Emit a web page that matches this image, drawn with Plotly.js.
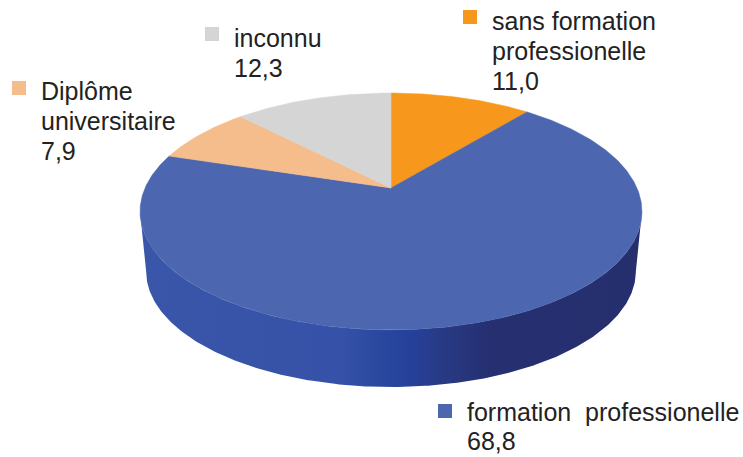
<!DOCTYPE html>
<html><head><meta charset="utf-8">
<script src="https://cdn.plot.ly/plotly-3.0.1.min.js"></script>
<style>html,body{margin:0;padding:0;background:#fff}</style></head>
<body><div id="chart" style="width:743px;height:457px"></div>
<script>
const categories = ["sans formation professionelle","formation professionelle","Diplôme universitaire","inconnu"];
const shares = [11.0, 68.8, 7.9, 12.3];
const sliceColors = ["#F7981D","#4C67B0","#F5BD8B","#D5D5D5"];
const labelLines = [["sans formation","professionelle","11,0"],["formation  professionelle","68,8"],["Diplôme","universitaire","7,9"],["inconnu","12,3"]];
const labelX = [490,465,39,232];
const labelY = [21,412,91,38];
const lineSteps = [30,29,30,30];
const keyX = [470,445,19,212];
const keyY = [17,411,88,34];
const wallStops = [[0,"#3A56A9"],[0.4,"#3652A8"],[0.47,"#2A499F"],[0.54,"#26409A"],[0.6,"#283A85"],[0.7,"#262F70"],[1,"#262F6E"]];

// tilted-disc view of the pie
const topRim = {cx:391, cy:188, a:246, b:113.8, k:0.198};
const baseRim = {cx:391, cy:248.6, a:240, b:111, k:0.198};
const project = (r, phi) => {
  const u = Math.sin(phi), v = Math.cos(phi), d = 1 + r.k * v;
  return [r.cx + r.a * u / d, r.cy - r.b * v / d];
};
const arc = (r, from, to) => {
  const n = Math.max(2, Math.ceil(Math.abs(to - from) / 0.01)), pts = [];
  for (let i = 0; i <= n; i++) pts.push(project(r, from + (to - from) * i / n));
  return pts;
};
const total = shares.reduce((a, b) => a + b, 0);
const traces = [];

const right = Math.acos(-topRim.k), left = 2 * Math.PI - right;
const wall = arc(topRim, right, left).concat(arc(baseRim, left, right));
traces.push({type:"scatter", mode:"lines", x:wall.map(p=>p[0]), y:wall.map(p=>p[1]),
  fill:"toself", line:{width:0}, hoverinfo:"skip",
  fillgradient:{type:"horizontal", colorscale:wallStops}});

let acc = 0;
shares.forEach((s, i) => {
  const a0 = acc / total * 2 * Math.PI; acc += s;
  const a1 = acc / total * 2 * Math.PI;
  const pts = [[topRim.cx, topRim.cy]].concat(arc(topRim, a0, a1));
  pts.push(pts[0]);
  traces.push({type:"scatter", mode:"lines", name:categories[i], x:pts.map(p=>p[0]), y:pts.map(p=>p[1]),
    fill:"toself", fillcolor:sliceColors[i], line:{width:0.5, color:sliceColors[i]}});
});

traces.push({type:"scatter", mode:"markers", x:keyX, y:keyY, hoverinfo:"skip",
  marker:{symbol:"square", size:14, color:sliceColors, line:{width:0}}});

const annotations = [];
labelLines.forEach((lines, i) => lines.forEach((t, j) => annotations.push({
  x:labelX[i], y:labelY[i] + j * lineSteps[i], xref:"x", yref:"y", text:t, showarrow:false,
  xanchor:"left", yanchor:"middle", font:{family:"Liberation Sans, Arial, sans-serif", size:25, color:"#222"}
})));

Plotly.newPlot("chart", traces, {
  width:743, height:457, margin:{l:0,r:0,t:0,b:0}, showlegend:false,
  paper_bgcolor:"#fff", plot_bgcolor:"#fff",
  xaxis:{range:[0,743], visible:false, fixedrange:true},
  yaxis:{range:[457,0], visible:false, fixedrange:true},
  annotations
}, {staticPlot:true});
</script></body></html>
